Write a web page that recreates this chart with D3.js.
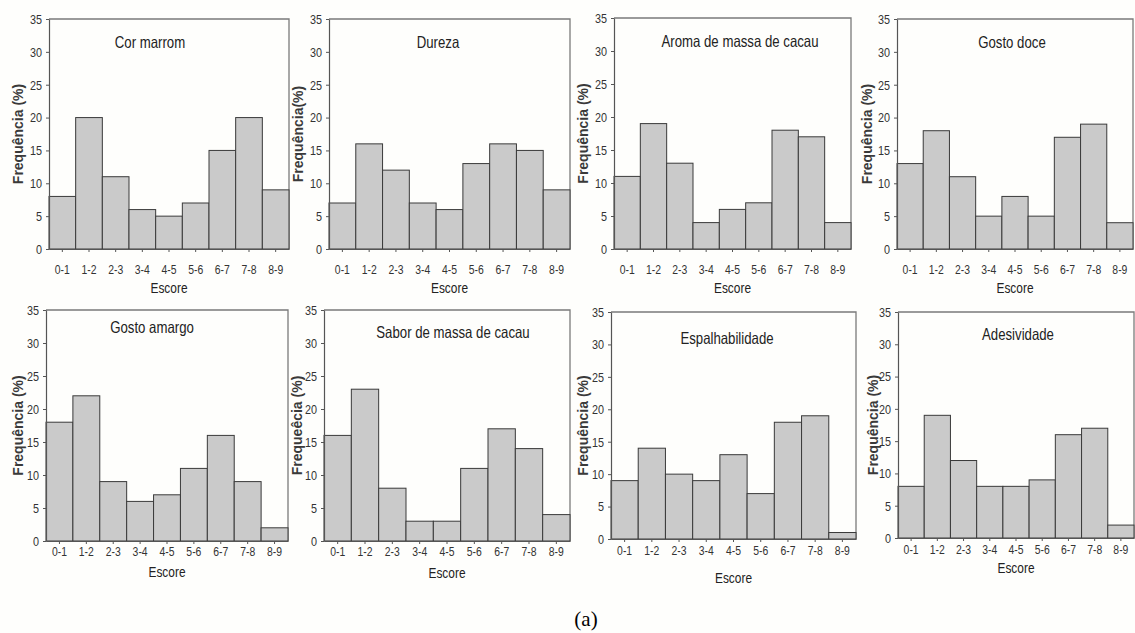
<!DOCTYPE html>
<html>
<head>
<meta charset="utf-8">
<script src="https://cdn.jsdelivr.net/npm/d3@7"></script>
<style>
  html, body { margin: 0; padding: 0; background: #fefefc; }
  svg { display: block; }
</style>
</head>
<body>
<svg id="chart" width="1135" height="633"></svg>
<script>
// ---- data ----
const categories = ["0-1", "1-2", "2-3", "3-4", "4-5", "5-6", "6-7", "7-8", "8-9"];
const yTickValues = [0, 5, 10, 15, 20, 25, 30, 35];
const titles = ["Cor marrom", "Dureza", "Aroma de massa de cacau", "Gosto doce",
                "Gosto amargo", "Sabor de massa de cacau", "Espalhabilidade", "Adesividade"];
const yLabels = ["Frequência (%)", "Frequência(%)", "Frequência (%)", "Frequência (%)",
                 "Frequência  (%)", "Frequeêcia (%)", "Frequência (%)", "Frequência (%)"];
const xLabel = "Escore";
const caption = "(a)";

const corMarrom       = [8, 20, 11, 6, 5, 7, 15, 20, 9];
const dureza          = [7, 16, 12, 7, 6, 13, 16, 15, 9];
const aromaMassa      = [11, 19, 13, 4, 6, 7, 18, 17, 4];
const gostoDoce       = [13, 18, 11, 5, 8, 5, 17, 19, 4];
const gostoAmargo     = [18, 22, 9, 6, 7, 11, 16, 9, 2];
const saborMassa      = [16, 23, 8, 3, 3, 11, 17, 14, 4];
const espalhabilidade = [9, 14, 10, 9, 13, 7, 18, 19, 1];
const adesividade     = [8, 19, 12, 8, 8, 9, 16, 17, 2];
const seriesList = [corMarrom, dureza, aromaMassa, gostoDoce, gostoAmargo, saborMassa, espalhabilidade, adesividade];

// ---- layout (pixel geometry of each panel) ----
const layout = [
  {l: 49,  r: 289,  t: 19,  b: 249, tx: 150,  ty: 42,  lx: 18,  pad: 12.5, ey: 288},
  {l: 329, r: 570,  t: 19,  b: 249, tx: 438,  ty: 42,  lx: 298, pad: 12.5, ey: 288},
  {l: 614, r: 851,  t: 18,  b: 249, tx: 740,  ty: 41,  lx: 583, pad: 12.5, ey: 288},
  {l: 897, r: 1133, t: 19,  b: 249, tx: 1012, ty: 42,  lx: 867, pad: 12.5, ey: 288},
  {l: 46,  r: 288,  t: 310, b: 541, tx: 152,  ty: 327, lx: 18,  pad: 3,    ey: 572},
  {l: 324, r: 570,  t: 310, b: 541, tx: 453,  ty: 332, lx: 297, pad: 3,    ey: 573},
  {l: 611, r: 856,  t: 312, b: 539, tx: 727,  ty: 338, lx: 583, pad: 4,    ey: 578},
  {l: 898, r: 1134, t: 312, b: 538, tx: 1018, ty: 334, lx: 873, pad: 4,    ey: 568}
];

const svg = d3.select("#chart");
svg.append("rect").attr("width", 1135).attr("height", 633).attr("fill", "#fefefc");

const sans = "'Liberation Sans', Arial, sans-serif";

// horizontally condense text (the original uses a narrow typeface)
function condense(sel, factor) {
  sel.each(function () {
    const w = this.getComputedTextLength();
    if (w > 0) {
      d3.select(this).attr("textLength", (w * factor).toFixed(2)).attr("lengthAdjust", "spacingAndGlyphs");
    }
  });
}

seriesList.forEach((vals, i) => {
  const L = layout[i];
  const g = svg.append("g");
  const x = d3.scaleBand().domain(categories).range([L.l, L.r]).padding(0);
  const y = d3.scaleLinear().domain([0, 35]).range([L.b, L.t]);

  // frame (top and right)
  g.append("path")
    .attr("d", `M${L.l},${L.t}H${L.r}V${L.b}`)
    .attr("fill", "none").attr("stroke", "#7a7a7a").attr("stroke-width", 1.3);

  // bars
  g.selectAll("rect.bar").data(vals).join("rect")
    .attr("class", "bar")
    .attr("x", (d, j) => x(categories[j]))
    .attr("y", d => y(d))
    .attr("width", x.bandwidth())
    .attr("height", d => y(0) - y(d))
    .attr("fill", "#cacaca")
    .attr("stroke", "#3a3a3a")
    .attr("stroke-width", 1);

  // y axis
  const ya = g.append("g").attr("transform", `translate(${L.l},0)`)
    .call(d3.axisLeft(y).tickValues(yTickValues).tickSize(3).tickSizeOuter(0).tickPadding(4));
  ya.select(".domain").attr("stroke", "#555").attr("stroke-width", 1.2);
  ya.selectAll(".tick line").attr("stroke", "#555");
  ya.selectAll(".tick text").attr("font-family", sans).attr("font-size", 13.5).attr("fill", "#333")
    .call(condense, 0.8);

  // x axis
  const xa = g.append("g").attr("transform", `translate(0,${L.b})`)
    .call(d3.axisBottom(x).tickSize(3).tickSizeOuter(0).tickPadding(L.pad));
  xa.select(".domain").attr("stroke", "#555").attr("stroke-width", 1.2);
  xa.selectAll(".tick line").attr("stroke", "#555");
  xa.selectAll(".tick text").attr("font-family", sans).attr("font-size", 13).attr("fill", "#333")
    .call(condense, 0.8);

  // title
  g.append("text")
    .attr("x", L.tx).attr("y", L.ty).attr("dy", "0.35em")
    .attr("text-anchor", "middle")
    .attr("font-family", sans).attr("font-size", 16.5).attr("fill", "#222")
    .text(titles[i])
    .call(condense, 0.8);

  // y label
  g.append("text")
    .attr("transform", `translate(${L.lx},${(L.t + L.b) / 2}) rotate(-90)`)
    .attr("dy", "0.35em")
    .attr("text-anchor", "middle")
    .attr("font-family", sans).attr("font-size", 14).attr("font-weight", "bold").attr("fill", "#3a3a3a")
    .text(yLabels[i]);

  // x label
  g.append("text")
    .attr("x", (L.l + L.r) / 2).attr("y", L.ey).attr("dy", "0.35em")
    .attr("text-anchor", "middle")
    .attr("font-family", sans).attr("font-size", 14).attr("fill", "#222")
    .text(xLabel)
    .call(condense, 0.85);
});

svg.append("text")
  .attr("x", 586).attr("y", 626)
  .attr("text-anchor", "middle")
  .attr("font-family", "'Liberation Serif', 'Times New Roman', serif")
  .attr("font-size", 21).attr("fill", "#000")
  .text(caption);
</script>
</body>
</html>
